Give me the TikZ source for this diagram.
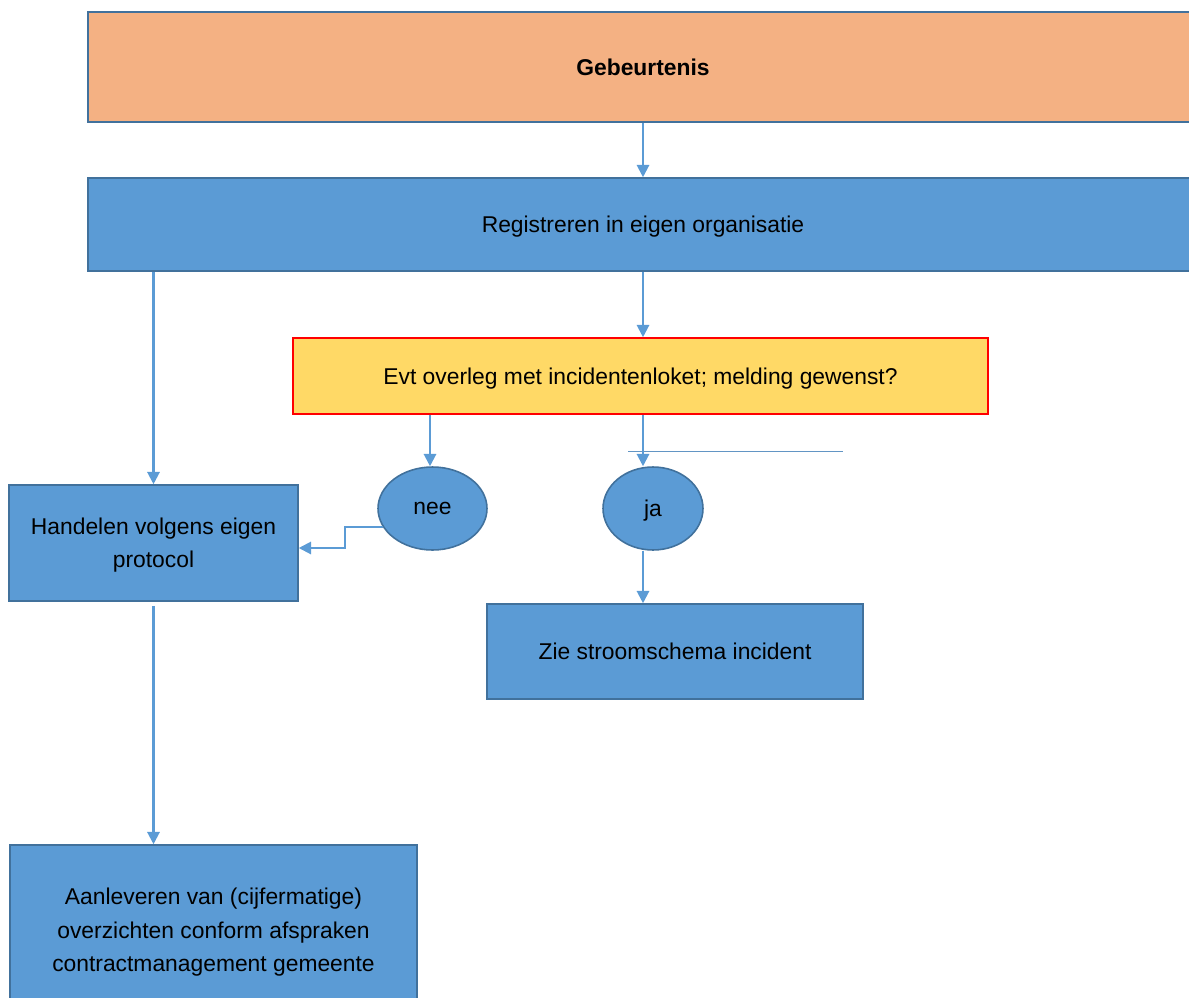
\documentclass[tikz,border=0pt]{standalone}
\usepackage{fontspec}
\setmainfont{Liberation Sans}
\usetikzlibrary{arrows.meta, shapes.geometric}

\definecolor{oranje}{HTML}{F4B183}
\definecolor{blauw}{HTML}{5B9BD5}
\definecolor{rand}{HTML}{41719C}
\definecolor{geel}{HTML}{FFD966}

\tikzset{
    blok/.style={draw=rand, line width=0.9pt, fill=blauw, align=center, font=\fontsize{13}{19}\selectfont, inner sep=0pt, text depth=0pt},
    keuze/.style={ellipse, draw=rand, line width=0.9pt, fill=blauw, font=\fontsize{13}{19}\selectfont, inner sep=0pt, text depth=0pt},
    pijl/.style={draw=blauw, line width=1.2pt, -{Triangle[width=7pt,length=7pt]}},
}

\begin{document}
\begin{tikzpicture}[x=0.02cm, y=-0.02cm]

    \clip (0,0) rectangle (1189,997);

    \node[blok, fill=oranje, minimum width=22.2cm, minimum height=2.2cm, font=\fontsize{13}{19}\selectfont\bfseries] (geb) at (643,67) {Gebeurtenis};
    \node[blok, minimum width=22.2cm, minimum height=1.86cm] (reg) at (643,224.5) {Registreren in eigen organisatie};

    \node[blok, fill=geel, draw=red, minimum width=13.9cm, minimum height=1.52cm] (evt) at (640.5,376) {Evt overleg met incidentenloket; melding gewenst?};

    \node[keuze, minimum width=2.18cm, minimum height=1.66cm] (nee) at (432.5,508.5) {nee};
    \node[keuze, minimum width=2.0cm, minimum height=1.66cm] (ja) at (653,508.5) {ja};

    \node[blok, minimum width=5.78cm, minimum height=2.32cm] (hand) at (153.5,543) {Handelen volgens eigen\\protocol};
    \node[blok, minimum width=7.52cm, minimum height=1.9cm] (zie) at (675,651.5) {Zie stroomschema incident};

    \node[blok, minimum width=8.14cm, minimum height=3.4cm] (aan) at (213.5,930) {Aanleveren van (cijfermatige)\\overzichten conform afspraken\\contractmanagement gemeente};

    \coordinate (neeX) at (430,0);
    \coordinate (lijnA) at (628,451);
    \coordinate (lijnB) at (843,451);
    \draw[blauw!80!gray, line width=0.5pt] (lijnA) -- (lijnB);

    \draw[pijl] (geb.south) -- (reg.north);
    \draw[pijl] (reg.south) -- (evt.north -| reg.south);
    \draw[pijl] (reg.south -| hand.north) -- (hand.north);

    \draw[pijl] (evt.south -| neeX) -- (nee.north -| neeX);
    \draw[pijl] (evt.south -| reg.south) -- (ja.north -| reg.south);
    \draw[pijl] (ja.south -| reg.south) -- (zie.north -| reg.south);

    \draw[pijl] (nee.200) -- ++(-38,0) |- ([yshift=-0.1cm]hand.east);
    \draw[pijl] ([yshift=-0.08cm]hand.south) -- (aan.north -| hand.south);

\end{tikzpicture}
\end{document}
